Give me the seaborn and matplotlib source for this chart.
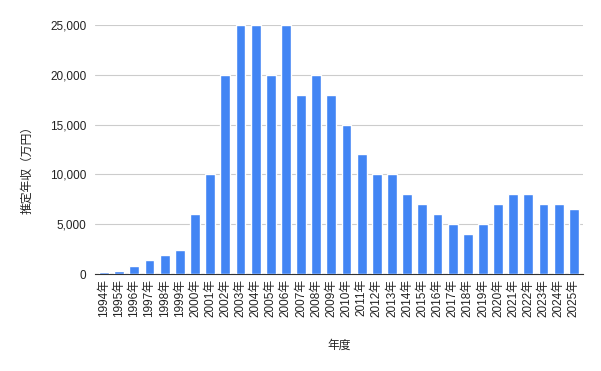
import pandas as pd
import matplotlib
matplotlib.use('Agg')
import matplotlib.pyplot as plt
import seaborn as sns
from matplotlib.ticker import FuncFormatter

# Data
years = [f'{y}年' for y in range(1994, 2026)]
income = [200, 350, 800, 1400, 1900, 2400, 6000, 10000, 20000, 25000,
          25000, 20000, 25000, 18000, 20000, 18000, 15000, 12000, 10000, 10000,
          8000, 7000, 6000, 5000, 4000, 5000, 7000, 8000, 8000, 7000,
          7000, 6500]

df = pd.DataFrame({'年度': years, '推定年収': income})

sns.set_style('white')
plt.rcParams['font.family'] = ['Liberation Sans', 'Noto Sans CJK JP', 'DejaVu Sans']

fig = plt.figure(figsize=(6.01, 3.71), dpi=100)
ax = fig.add_axes([0.158, 0.261, 0.812, 0.672])

sns.barplot(x='年度', y='推定年収', data=df, color='#4285F4', saturation=1,
            width=0.65, ax=ax, zorder=3)

ax.set_ylim(0, 25000)
ax.set_yticks([0, 5000, 10000, 15000, 20000, 25000])
ax.yaxis.set_major_formatter(FuncFormatter(lambda v, p: f'{int(v):,}'))
ax.grid(axis='y', color='#cccccc', linewidth=0.8, zorder=0)
ax.set_xlim(-0.6, len(years) - 0.4)

for s in ['top', 'right', 'left']:
    ax.spines[s].set_visible(False)
ax.spines['bottom'].set_color('#333333')
ax.spines['bottom'].set_linewidth(0.8)
ax.spines['bottom'].set_zorder(2)

ax.tick_params(axis='both', length=0, labelsize=8.5, colors='#222222')
ax.tick_params(axis='y', pad=6)
plt.xticks(rotation=90)

ax.set_xlabel('年度', fontsize=8.5, color='#222222', labelpad=16)
ax.set_ylabel('推定年収（万円）', fontsize=8.5, color='#222222')
ax.yaxis.set_label_coords(-0.127, 0.43)

plt.savefig('out.png', dpi=100)
